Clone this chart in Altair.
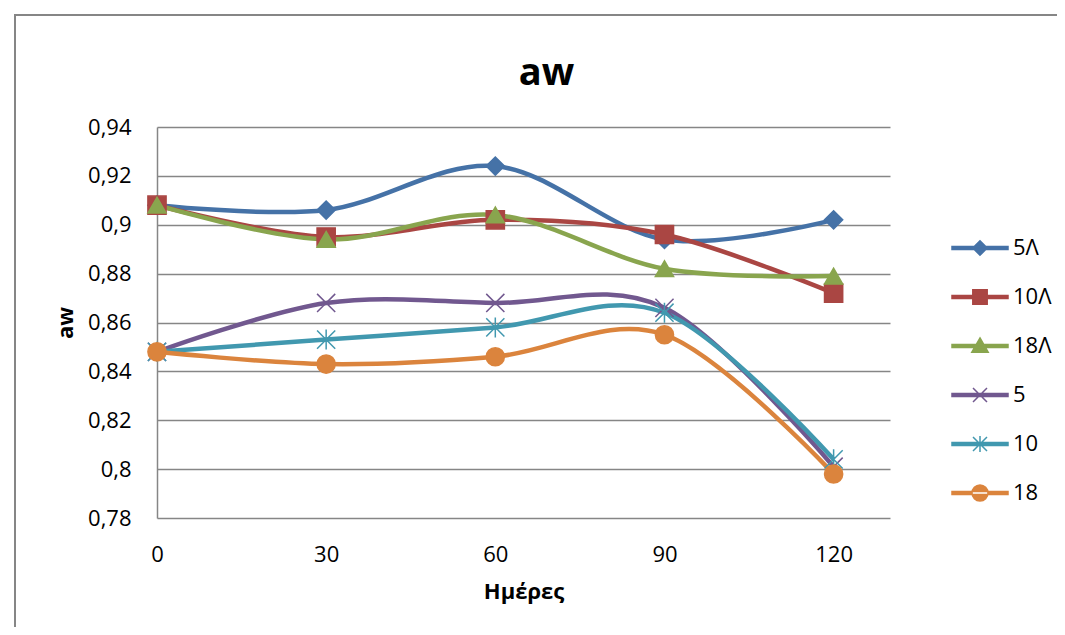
import altair as alt
import pandas as pd

days = [0, 30, 60, 90, 120]
series_names = ["5Λ", "10Λ", "18Λ", "5", "10", "18"]
values = {
    "5Λ":  [0.908, 0.906, 0.924, 0.894, 0.902],
    "10Λ": [0.908, 0.895, 0.902, 0.896, 0.872],
    "18Λ": [0.908, 0.894, 0.904, 0.882, 0.879],
    "5":   [0.848, 0.868, 0.868, 0.866, 0.801],
    "10":  [0.848, 0.853, 0.858, 0.864, 0.804],
    "18":  [0.848, 0.843, 0.846, 0.855, 0.798],
}
colors = ["#4572A7", "#AA4643", "#89A54E", "#71588F", "#4198AF", "#DB843D"]
y_ticks = [0.78, 0.80, 0.82, 0.84, 0.86, 0.88, 0.90, 0.92, 0.94]
x_ticks = [0, 30, 60, 90, 120]

rows = []
for s in series_names:
    for d, v in zip(days, values[s]):
        rows.append({"series": s, "label": s, "day": d, "aw": v})
df = pd.DataFrame(rows)

FONT = "Open Sans"
GRID = "#868686"

plot_shapes = [
    "diamond",
    "square",
    "triangle-up",
    "M-1,-1L1,1M-1,1L1,-1",
    "M-1,-1L1,1M-1,1L1,-1M0,-1.1L0,1.1",
    "circle",
]
bar = "M-2.8,-0.14H2.8V0.14H-2.8Z"
legend_shapes = [
    bar + "M0,-0.72L0.72,0L0,0.72L-0.72,0Z",
    bar + "M-0.72,-0.72H0.72V0.72H-0.72Z",
    bar + "M0,-0.8L0.82,0.62H-0.82Z",
    bar + "M-0.7,-0.7L0.7,0.7M-0.7,0.7L0.7,-0.7",
    bar + "M-0.7,-0.7L0.7,0.7M-0.7,0.7L0.7,-0.7M0,-0.8V0.8",
    bar + "M-0.8,0A0.8,0.8 0 1,0 0.8,0A0.8,0.8 0 1,0 -0.8,0Z",
]

xenc = alt.X(
    "day:Q",
    scale=alt.Scale(domain=[0, 130], nice=False),
    axis=alt.Axis(
        values=x_ticks, grid=False, ticks=False, tickSize=0, domain=False, labelFlush=False,
        labelFont=FONT, labelFontSize=22, labelColor="#000000", labelPadding=26,
        title="Ημέρες", titleFont=FONT, titleFontSize=22, titleFontWeight="bold",
        titleColor="#000000", titleY=73, titleBaseline="middle",
    ),
)
yenc = alt.Y(
    "aw:Q",
    scale=alt.Scale(domain=[0.78, 0.94], nice=False, zero=False),
    axis=alt.Axis(
        values=y_ticks, grid=True, gridColor=GRID, gridWidth=1.5, labelFlush=False,
        ticks=False, tickSize=0, domain=True, domainColor=GRID, domainWidth=1.5,
        labelFont=FONT, labelFontSize=22, labelColor="#000000", labelPadding=26,
        labelExpr="replace(format(datum.value, '.2~f'), '.', ',')",
        title="aw", titleFont=FONT, titleFontSize=22, titleFontWeight="bold",
        titleColor="#000000", titleX=-92, titleBaseline="middle", titleAngle=-90,
    ),
)

color_scale = alt.Scale(domain=series_names, range=colors)

frame_src = pd.DataFrame({"a": [0]})
border_top = alt.Chart(frame_src).mark_rule(stroke=GRID, strokeWidth=2).encode(
    x=alt.value(-142), x2=alt.value(910), y=alt.value(-112)
)
border_left = alt.Chart(frame_src).mark_rule(stroke=GRID, strokeWidth=2).encode(
    x=alt.value(-142), y=alt.value(-113), y2=alt.value(520)
)

lines = alt.Chart(df).mark_line(interpolate="cardinal", strokeWidth=4.5).encode(
    x=xenc, y=yenc,
    color=alt.Color("series:N", scale=color_scale, legend=None),
    detail="series:N",
    order=alt.Order("day:Q"),
)

points = alt.Chart(df).mark_point(filled=True, size=330, strokeWidth=1.5, opacity=1).encode(
    x="day:Q", y="aw:Q",
    fill=alt.Fill("series:N", scale=color_scale, legend=None),
    stroke=alt.Stroke("series:N", scale=color_scale, legend=None),
    shape=alt.Shape("series:N", scale=alt.Scale(domain=series_names, range=plot_shapes), legend=None),
)

leg = dict(
    orient="none", legendX=812, legendY=110, title=None, padding=0,
    symbolSize=400, symbolStrokeWidth=1.5, symbolOpacity=1,
    labelFont=FONT, labelFontSize=22, labelColor="#000000", labelOffset=22,
    rowPadding=27, labelLimit=200,
)
legend_layer = alt.Chart(df).mark_point(filled=True, opacity=0, strokeWidth=1.5).encode(
    x="day:Q", y="aw:Q",
    fill=alt.Fill("label:N", scale=alt.Scale(domain=series_names, range=colors), legend=alt.Legend(**leg)),
    stroke=alt.Stroke("label:N", scale=alt.Scale(domain=series_names, range=colors), legend=alt.Legend(**leg)),
    shape=alt.Shape("label:N", scale=alt.Scale(domain=series_names, range=legend_shapes), legend=alt.Legend(**leg)),
)

chart = alt.layer(border_top, border_left, lines, points, legend_layer).resolve_scale(
    shape="independent", fill="independent", stroke="independent"
).properties(
    width=733, height=391,
    title=alt.TitleParams("aw", font=FONT, fontSize=38, fontWeight="bold", color="#000000",
                          anchor="middle", frame="group", dx=23, offset=-80),
    autosize=alt.AutoSizeParams(type="none"),
    padding={"left": 149, "top": 119, "right": 167, "bottom": 109},
).configure_view(stroke=None)

chart.save("out.html", embed_options={"renderer": "svg", "actions": False})
